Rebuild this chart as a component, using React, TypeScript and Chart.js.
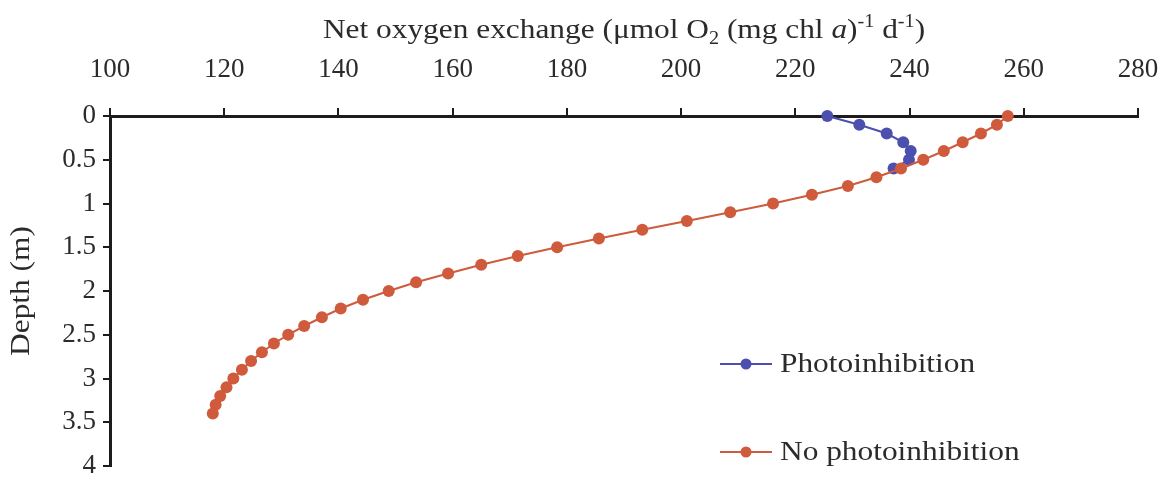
import React, { useEffect, useRef } from 'react';
import { Chart, registerables } from 'chart.js';

Chart.register(...registerables);

// Depth below surface (m), sampled every 0.1 m
const depthSteps = [
  0, 0.1, 0.2, 0.3, 0.4, 0.5, 0.6, 0.7, 0.8, 0.9,
  1.0, 1.1, 1.2, 1.3, 1.4, 1.5, 1.6, 1.7, 1.8, 1.9,
  2.0, 2.1, 2.2, 2.3, 2.4, 2.5, 2.6, 2.7, 2.8, 2.9,
  3.0, 3.1, 3.2, 3.3, 3.4,
];

// Net oxygen exchange with photoinhibition (only the upper layer is affected)
const photoinhibition = [225.6, 231.2, 236.0, 238.9, 240.2, 239.9, 237.2];

// Net oxygen exchange without photoinhibition
const noPhotoinhibition = [
  257.2, 255.3, 252.5, 249.3, 246.0, 242.4, 238.5, 234.2, 229.2, 222.9,
  216.1, 208.6, 201.0, 193.2, 185.6, 178.3, 171.4, 165.0, 159.2, 153.6,
  148.8, 144.3, 140.4, 137.1, 134.0, 131.2, 128.7, 126.6, 124.7, 123.1,
  121.6, 120.4, 119.3, 118.5, 118.0,
];

const seriesLabels = ['Photoinhibition', 'No photoinhibition'];
const seriesColors = ['#4b4fae', '#cf5a3c'];

const xMin = 100;
const xMax = 280;
const xStep = 20;
const yMin = 0;
const yMax = 4;
const yStep = 0.5;

const FONT = '"Liberation Serif", "Times New Roman", serif';
const AXIS_COLOR = '#1c1c1c';
const TEXT_COLOR = '#2b2b2b';
const TEXT_SIZE = 28;
const TICK_SIZE = 27;
const STRETCH = 1.12; // slightly wider letterforms for the drawn captions

const toPoints = (values: number[]) => values.map((v, i) => ({ x: v, y: depthSteps[i] }));

// Axis title with sub/superscripts and the italic "a"
const titleSegments: { text: string; kind: 'n' | 'sub' | 'sup' | 'i' }[] = [
  { text: 'Net oxygen exchange (\u03bcmol O', kind: 'n' },
  { text: '2', kind: 'sub' },
  { text: ' (mg chl ', kind: 'n' },
  { text: 'a', kind: 'i' },
  { text: ')', kind: 'n' },
  { text: '-1', kind: 'sup' },
  { text: ' d', kind: 'n' },
  { text: '-1', kind: 'sup' },
  { text: ')', kind: 'n' },
];

const decorPlugin = {
  id: 'decor',
  afterDraw(chart: any) {
    const { ctx, chartArea } = chart;
    const small = 18;
    const fontFor = (k: string) =>
      k === 'i'
        ? `italic ${TEXT_SIZE}px ${FONT}`
        : k === 'n'
        ? `${TEXT_SIZE}px ${FONT}`
        : `${small}px ${FONT}`;

    ctx.save();
    ctx.fillStyle = TEXT_COLOR;
    ctx.textBaseline = 'alphabetic';
    ctx.textAlign = 'left';

    // top axis title
    let total = 0;
    for (const s of titleSegments) {
      ctx.font = fontFor(s.kind);
      total += ctx.measureText(s.text).width;
    }
    const cx = (chartArea.left + chartArea.right) / 2;
    ctx.save();
    ctx.translate(cx, 38);
    ctx.scale(STRETCH, 1);
    let x = -total / 2;
    for (const s of titleSegments) {
      ctx.font = fontFor(s.kind);
      const dy = s.kind === 'sub' ? 6 : s.kind === 'sup' ? -11 : 0;
      ctx.fillText(s.text, x, dy);
      x += ctx.measureText(s.text).width;
    }
    ctx.restore();

    // left axis title
    ctx.save();
    ctx.font = `${TEXT_SIZE}px ${FONT}`;
    ctx.translate(22, (chartArea.top + chartArea.bottom) / 2);
    ctx.rotate(-Math.PI / 2);
    ctx.scale(STRETCH, 1);
    ctx.textAlign = 'center';
    ctx.textBaseline = 'middle';
    ctx.fillText('Depth (m)', 0, 0);
    ctx.restore();

    // legend
    const legendX = 720;
    const legendRows = [364, 452];
    chart.data.datasets.forEach((ds: any, i: number) => {
      const y = legendRows[i];
      ctx.strokeStyle = ds.borderColor;
      ctx.lineWidth = 2;
      ctx.beginPath();
      ctx.moveTo(legendX, y);
      ctx.lineTo(legendX + 52, y);
      ctx.stroke();
      ctx.fillStyle = ds.backgroundColor;
      ctx.beginPath();
      ctx.arc(legendX + 26, y, 5.5, 0, Math.PI * 2);
      ctx.fill();
      ctx.save();
      ctx.fillStyle = TEXT_COLOR;
      ctx.font = `${TEXT_SIZE}px ${FONT}`;
      ctx.textAlign = 'left';
      ctx.textBaseline = 'middle';
      ctx.translate(legendX + 60, y + 1);
      ctx.scale(STRETCH, 1);
      ctx.fillText(ds.label, 0, 0);
      ctx.restore();
    });
    ctx.restore();
  },
};

export default function App() {
  const canvasRef = useRef<HTMLCanvasElement | null>(null);

  useEffect(() => {
    if (!canvasRef.current) return;
    const chart = new Chart(canvasRef.current, {
      type: 'line',
      data: {
        datasets: [
          {
            label: seriesLabels[0],
            data: toPoints(photoinhibition),
            borderColor: seriesColors[0],
            backgroundColor: seriesColors[0],
            borderWidth: 2,
            pointRadius: 6,
            pointBorderWidth: 0,
            tension: 0,
            clip: false as any,
            order: 1,
          },
          {
            label: seriesLabels[1],
            data: toPoints(noPhotoinhibition),
            borderColor: seriesColors[1],
            backgroundColor: seriesColors[1],
            borderWidth: 2,
            pointRadius: 6,
            pointBorderWidth: 0,
            tension: 0,
            clip: false as any,
            order: 0,
          },
        ],
      },
      options: {
        animation: false,
        responsive: false,
        maintainAspectRatio: false,
        layout: { padding: { left: 0, top: 0, right: 27, bottom: 17 } },
        plugins: {
          legend: { display: false },
          tooltip: { enabled: false },
          title: { display: false },
        },
        scales: {
          x: {
            type: 'linear',
            position: 'top',
            min: xMin,
            max: xMax,
            ticks: {
              stepSize: xStep,
              color: TEXT_COLOR,
              font: { family: FONT, size: TICK_SIZE },
              padding: 22,
              maxRotation: 0,
            },
            grid: {
              display: true,
              drawOnChartArea: false,
              drawTicks: true,
              tickLength: 8,
              color: AXIS_COLOR,
              lineWidth: 2,
            },
            border: { display: true, color: AXIS_COLOR, width: 3 },
            afterFit: (scale: any) => {
              scale.height = 116;
              scale.paddingLeft = 0;
              scale.paddingRight = 0;
            },
          },
          y: {
            type: 'linear',
            reverse: true,
            min: yMin,
            max: yMax,
            ticks: {
              stepSize: yStep,
              color: TEXT_COLOR,
              font: { family: FONT, size: TICK_SIZE },
              padding: 7,
              callback: (v: any) => String(Number(v)),
            },
            grid: {
              display: true,
              drawOnChartArea: false,
              drawTicks: true,
              tickLength: 7,
              color: AXIS_COLOR,
              lineWidth: 2,
            },
            border: { display: true, color: AXIS_COLOR, width: 3 },
            afterFit: (scale: any) => {
              scale.width = 110;
              scale.paddingTop = 0;
              scale.paddingBottom = 0;
            },
          },
        },
      },
      plugins: [decorPlugin],
    });
    return () => chart.destroy();
  }, []);

  return (
    <div style={{ position: 'fixed', left: 0, top: 0, width: 1165, height: 483, background: '#fff' }}>
      <canvas ref={canvasRef} width={1165} height={483} style={{ width: 1165, height: 483 }} />
    </div>
  );
}
